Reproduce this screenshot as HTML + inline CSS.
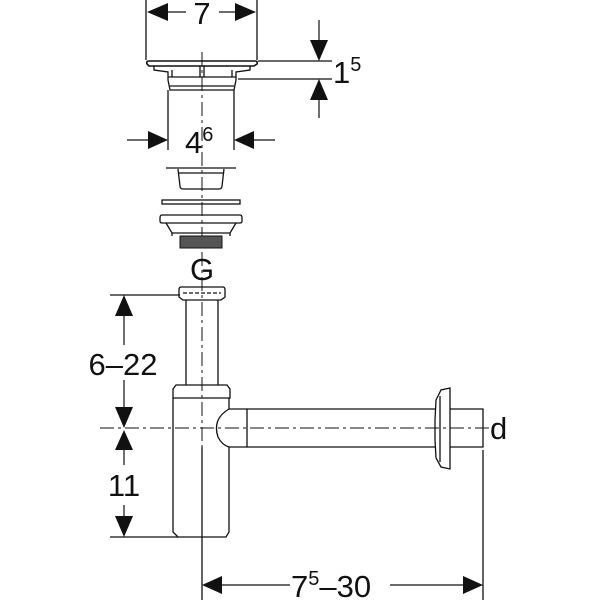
<!DOCTYPE html>
<html><head><style>body{margin:0;background:#fff}svg{display:block}text{font-family:"Liberation Sans",sans-serif;fill:#111}</style></head><body>
<svg width="600" height="600" viewBox="0 0 600 600" xmlns="http://www.w3.org/2000/svg">
<g stroke="#111" stroke-width="1.3" fill="none">
<path d="M202 52V600" stroke-dasharray="14,4,3,4" stroke-width="1"/>
<path d="M100 428H490" stroke-dasharray="14,4,3,4" stroke-width="1"/>
<path d="M146 0V60M257 0V60"/>
<path d="M168 12H186M219 12H235" stroke-width="1.2"/>
<path d="M149 61H255Q258 61 257 64L254 66H149L147 64Q146 61 149 61Z" stroke-width="1.6"/>
<path d="M154 66V70L168 72V80L170 90H234L236 80V72L250 70V66"/>
<path d="M168 77H236M172 70V77M232 70V77M200 66V77M204 66V77"/>
<path d="M170 86H234"/>
<path d="M258 61H332M238 79H332"/>
<path d="M319 20V41M319 99V118" stroke-width="1.2"/>
<path d="M168 90V150M234 90V150"/>
<path d="M127 140H149M254 140H275" stroke-width="1.2"/>
<path d="M166 168H236M178 169L180 186Q180 189 183 189H219Q222 189 222 186L224 169M178 173H224"/>
<rect x="162" y="200" width="78" height="4"/>
<path d="M162 215H240Q242 215 242 218V221Q242 223 240 223H162Q160 223 160 221V218Q160 215 162 215Z"/>
<path d="M166 223L172 233H230L236 223M172 233V236M230 233V236"/>
<rect x="180" y="236" width="42" height="12" fill="#555" stroke-width="1"/>
<path d="M110 295H180M110 537H178"/>
<path d="M124 315V345M124 380V408M124 448V465M124 505V517" stroke-width="1.2"/>
<path d="M181 287H223Q225 287 225 290V297L221 300H183L179 297V290Q179 287 181 287Z"/>
<path d="M183 293H221" stroke-dasharray="4,2"/>
<path d="M186 300V385M218 300V385"/>
<path d="M176 385H227L230 389V398H173V389Z"/>
<path d="M173 398V532L178 537H226L229 532V447H247V409H229V398"/>
<path d="M229 409Q212 419 218 437Q222 445 229 447"/>
<path d="M247 409H435M247 447H435"/>
<path d="M450 388L441 390L436 400L435 420L435 440L436 458L441 467L450 469Z"/>
<path d="M440 396V462"/>
<path d="M450 409H483V447H450"/>
<path d="M202 447V600M483 450V600"/>
<path d="M222 585H290M390 585H463" stroke-width="1.2"/>
</g>
<g fill="#111">
<polygon points="147,12 168,3 168,21"/>
<polygon points="256,12 235,3 235,21"/>
<polygon points="319,61 310,40 328,40"/>
<polygon points="319,79 310,100 328,100"/>
<polygon points="168,140 148,131 148,149"/>
<polygon points="234,140 254,131 254,149"/>
<polygon points="124,295 115,316 133,316"/>
<polygon points="124,428 115,407 133,407"/>
<polygon points="124,430 115,450 133,450"/>
<polygon points="124,537 115,516 133,516"/>
<polygon points="202,585 222,576 222,594"/>
<polygon points="483,585 463,576 463,594"/>
</g>
<g font-size="31">
<text x="202" y="24" text-anchor="middle">7</text>
<text x="333" y="83">1<tspan font-size="20" dy="-12">5</tspan></text>
<text x="185" y="153">4<tspan font-size="20" dy="-12">6</tspan></text>
<text x="202" y="280" text-anchor="middle">G</text>
<text x="123" y="375" text-anchor="middle">6–22</text>
<text x="124" y="496" text-anchor="middle">11</text>
<text x="490" y="439">d</text>
<text x="291" y="597">7<tspan font-size="20" dy="-12">5</tspan><tspan dy="12">–30</tspan></text>
</g>
</svg>
</body></html>
